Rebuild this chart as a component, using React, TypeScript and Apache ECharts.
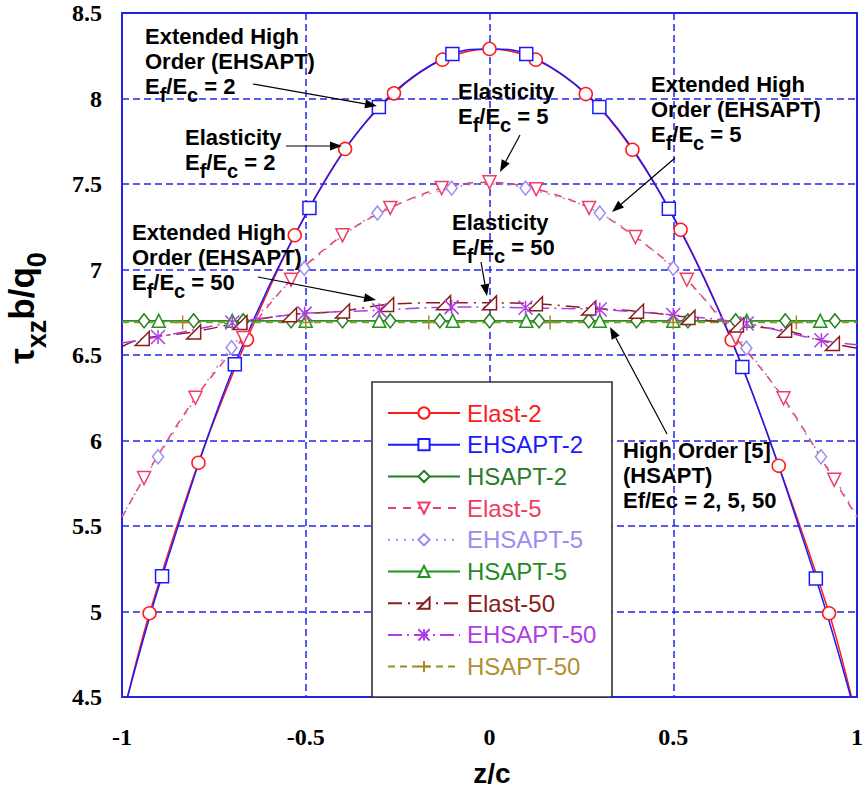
import React, { useEffect, useRef } from "react";
import * as echarts from "echarts";

// ---- data ----
const elast2X = [-0.985, -0.925, -0.792, -0.66, -0.53, -0.393, -0.26, -0.128, 0, 0.126, 0.262, 0.389, 0.52, 0.659, 0.787, 0.924, 0.985];
const elast2Y = [4.5, 4.99, 5.87, 6.59, 7.2, 7.705, 8.03, 8.227, 8.29, 8.227, 8.026, 7.7, 7.232, 6.588, 5.852, 4.99, 4.5];
const elast2M = [0, 1, 1, 1, 1, 1, 1, 1, 1, 1, 1, 1, 1, 1, 1, 1, 0];

const ehsapt2X = [-0.985, -0.891, -0.693, -0.49, -0.301, -0.101, 0, 0.1, 0.299, 0.488, 0.688, 0.888, 0.983];
const ehsapt2Y = [4.5, 5.206, 6.446, 7.359, 7.95, 8.26, 8.29, 8.26, 7.95, 7.355, 6.43, 5.193, 4.5];
const ehsapt2M = [0, 1, 1, 1, 1, 1, 0, 1, 1, 1, 1, 1, 0];

const hsapt2X = [-1, -0.94, -0.805, -0.67, -0.54, -0.4, -0.27, -0.135, 0, 0.135, 0.27, 0.4, 0.54, 0.67, 0.805, 0.94, 1];
const hsapt2Y = [6.7, 6.7, 6.7, 6.7, 6.7, 6.7, 6.7, 6.7, 6.7, 6.7, 6.7, 6.7, 6.7, 6.7, 6.7, 6.7, 6.7];
const hsapt2M = [0, 1, 1, 1, 1, 1, 1, 1, 1, 1, 1, 1, 1, 1, 1, 1, 0];

const elast5X = [-1, -0.94, -0.8, -0.67, -0.54, -0.4, -0.27, -0.13, 0, 0.127, 0.271, 0.397, 0.537, 0.67, 0.8, 0.938, 1];
const elast5Y = [5.55, 5.78, 6.25, 6.6, 6.94, 7.2, 7.36, 7.476, 7.51, 7.47, 7.36, 7.19, 6.94, 6.6, 6.247, 5.77, 5.55];
const elast5M = [0, 1, 1, 1, 1, 1, 1, 1, 1, 1, 1, 1, 1, 1, 1, 1, 0];

const ehsapt5X = [-1, -0.902, -0.702, -0.504, -0.305, -0.103, 0, 0.098, 0.3, 0.5, 0.699, 0.902, 1];
const ehsapt5Y = [5.56, 5.905, 6.543, 7.007, 7.33, 7.476, 7.5, 7.476, 7.33, 7.007, 6.54, 5.905, 5.56];
const ehsapt5M = [0, 1, 1, 1, 1, 1, 0, 1, 1, 1, 1, 1, 0];

const hsapt5X = [-1, -0.9, -0.7, -0.5, -0.3, -0.1, 0.1, 0.3, 0.5, 0.7, 0.9, 1];
const hsapt5Y = [6.7, 6.7, 6.7, 6.7, 6.7, 6.7, 6.7, 6.7, 6.7, 6.7, 6.7, 6.7];
const hsapt5M = [0, 1, 1, 1, 1, 1, 1, 1, 1, 1, 1, 0];

const elast50X = [-1, -0.945, -0.805, -0.679, -0.544, -0.4, -0.28, -0.125, 0, 0.125, 0.27, 0.4, 0.54, 0.672, 0.803, 0.933, 1];
const elast50Y = [6.55, 6.596, 6.635, 6.69, 6.735, 6.757, 6.795, 6.806, 6.805, 6.8, 6.775, 6.756, 6.72, 6.675, 6.645, 6.567, 6.54];
const elast50M = [0, 1, 1, 1, 1, 1, 1, 1, 1, 1, 1, 1, 1, 1, 1, 1, 0];

const ehsapt50X = [-1, -0.902, -0.7, -0.503, -0.3, -0.103, 0, 0.098, 0.3, 0.5, 0.7, 0.903, 1];
const ehsapt50Y = [6.57, 6.605, 6.69, 6.742, 6.762, 6.78, 6.78, 6.776, 6.766, 6.734, 6.684, 6.586, 6.56];
const ehsapt50M = [0, 1, 1, 1, 1, 1, 0, 1, 1, 1, 1, 1, 0];

const hsapt50X = [-1, -0.835, -0.5, -0.165, 0.165, 0.5, 0.835, 1];
const hsapt50Y = [6.69, 6.69, 6.69, 6.69, 6.69, 6.69, 6.69, 6.69];
const hsapt50M = [0, 1, 1, 1, 1, 1, 1, 0];

const seriesNames = ["Elast-2", "EHSAPT-2", "HSAPT-2", "Elast-5", "EHSAPT-5", "HSAPT-5", "Elast-50", "EHSAPT-50", "HSAPT-50"];
const xTicks = [-1, -0.5, 0, 0.5, 1];
const yTicks = [4.5, 8.5, 0.5];

// ---- styles ----
const BLUE = "#2323e6";
const SANS = "'Liberation Sans', Arial, Helvetica, sans-serif";
const TICKFONT = "'Liberation Serif', 'Times New Roman', serif";

const RIGHT_TRI = "path://M0,10 L10,0 L10,10 Z";
const ASTER = "path://M0,0 L10,10 M10,0 L0,10 M5,0 L5,10";
const PLUS = "path://M5,0 L5,10 M0,5 L10,5";

const styles = [
  { color: "#ff1a1a", text: "#ff1a1a", dash: "solid", symbol: "circle", size: 13, smooth: 0.35 },
  { color: "#1a1aff", text: "#1a1aff", dash: "solid", symbol: "rect", size: 13, smooth: 0.35 },
  { color: "#1f7f1f", text: "#2a7a2a", dash: "solid", symbol: "diamond", size: [11, 14], smooth: 0 },
  { color: "#f03c64", text: "#f03c64", dash: [8, 7], symbol: "triangle", size: 13, rotate: 180, smooth: 0.35 },
  { color: "#9a8cf0", text: "#9a8cf0", dash: [2, 6], symbol: "diamond", size: [11, 14], smooth: 0.35 },
  { color: "#1e961e", text: "#1e8c1e", dash: "solid", symbol: "triangle", size: 13, smooth: 0 },
  { color: "#8a1c1c", text: "#8a1c1c", dash: [14, 6, 2, 6], symbol: RIGHT_TRI, size: 14, smooth: 0.3 },
  { color: "#b03ce6", text: "#b03ce6", dash: [14, 5, 2, 5], symbol: ASTER, size: 14, smooth: 0.3 },
  { color: "#a08a28", text: "#b09030", dash: [7, 5], symbol: PLUS, size: 14, smooth: 0 },
];

const seriesXY = [
  [elast2X, elast2Y, elast2M],
  [ehsapt2X, ehsapt2Y, ehsapt2M],
  [hsapt2X, hsapt2Y, hsapt2M],
  [elast5X, elast5Y, elast5M],
  [ehsapt5X, ehsapt5Y, ehsapt5M],
  [hsapt5X, hsapt5Y, hsapt5M],
  [elast50X, elast50Y, elast50M],
  [ehsapt50X, ehsapt50Y, ehsapt50M],
  [hsapt50X, hsapt50Y, hsapt50M],
];

// rich styles: main text top-aligned in a tall line, subscripts bottom-aligned => lowered
const rich = {
  m: { fontSize: 22, fontWeight: "bold", fontFamily: SANS, lineHeight: 30, verticalAlign: "top", fill: "#000", color: "#000" },
  s: { fontSize: 20, fontWeight: "bold", fontFamily: SANS, verticalAlign: "bottom", fill: "#000", color: "#000" },
};

// one text element per line; cy = vertical centre of the capital letters of the first line
function note(x: number, cy: number, lines: string[]) {
  return lines.map((t, i) => ({
    type: "text",
    x,
    y: cy + i * 25 - 10,
    z: 6,
    style: { text: t, rich, fill: "#000", align: "left", textAlign: "left", verticalAlign: "top", textVerticalAlign: "top" },
  }));
}

function arrow(x1: number, y1: number, x2: number, y2: number) {
  const a = Math.atan2(y2 - y1, x2 - x1);
  const L = 12, W = 4.5;
  const bx = x2 - L * Math.cos(a), by = y2 - L * Math.sin(a);
  return [
    { type: "line", z: 6, shape: { x1, y1, x2: bx, y2: by }, style: { stroke: "#000", lineWidth: 1.2 } },
    {
      type: "polygon",
      z: 6,
      shape: { points: [[x2, y2], [bx - W * Math.sin(a), by + W * Math.cos(a)], [bx + W * Math.sin(a), by - W * Math.cos(a)]] },
      style: { fill: "#000" },
    },
  ];
}

const EfEc = (v: string) => `{m|E}{s|f}{m|/E}{s|c}{m| = ${v}}`;

export default function App() {
  const ref = useRef<HTMLDivElement>(null);
  useEffect(() => {
    document.body.style.margin = "0";
    const chart = echarts.init(ref.current!, null, { renderer: "svg" });
    const series = seriesNames.map((name, i) => {
      const st: any = styles[i];
      const [xs, ys, ms] = seriesXY[i];
      return {
        name,
        type: "line",
        data: (xs as number[]).map((xv, k) =>
          (ms as number[])[k] ? [xv, (ys as number[])[k]] : { value: [xv, (ys as number[])[k]], symbol: "none" }
        ),
        smooth: st.smooth,
        symbol: st.symbol,
        symbolSize: st.size,
        symbolRotate: st.rotate || 0,
        showSymbol: true,
        showAllSymbol: true,
        lineStyle: { color: st.color, width: 1.5, type: st.dash },
        itemStyle: { color: "#fff", borderColor: st.color, borderWidth: 1.5 },
        emphasis: { disabled: true },
      };
    });

    const graphic: any[] = [
      { type: "rect", z: 5, shape: { x: 372, y: 382, width: 240, height: 315 }, style: { fill: "#fff", stroke: "#333", lineWidth: 1.6 } },
      ...note(145, 35, ["{m|Extended High}", "{m|Order (EHSAPT)}", EfEc("2")]),
      ...note(185, 136, ["{m|Elasticity}", EfEc("2")]),
      ...note(458, 90, ["{m|Elasticity}", EfEc("5")]),
      ...note(651, 83, ["{m|Extended High}", "{m|Order (EHSAPT)}", EfEc("5")]),
      ...note(452, 221, ["{m|Elasticity}", EfEc("50")]),
      ...note(132, 231, ["{m|Extended High}", "{m|Order (EHSAPT)}", EfEc("50")]),
      ...note(623, 449, ["{m|High Order [5]}", "{m|(HSAPT)}", "{m|Ef/Ec = 2, 5, 50}"]),
      ...arrow(253, 84, 377, 106),
      ...arrow(286, 146, 342, 146),
      ...arrow(520, 135, 500, 172),
      ...arrow(675, 158, 612, 212),
      ...arrow(481, 262, 487, 296),
      ...arrow(258, 277, 376, 300),
      ...arrow(667, 434, 610, 327),
      {
        type: "text",
        x: 27,
        y: 308,
        rotation: Math.PI / 2,
        z: 6,
        style: {
          text: "{a|τ}{b|xz}{a|b/q}{b|0}",
          align: "center",
          textAlign: "center",
          verticalAlign: "middle",
          textVerticalAlign: "middle",
          rich: {
            a: { fontSize: 35, fontWeight: "bold", fontFamily: SANS, lineHeight: 46, verticalAlign: "top", fill: "#000" },
            b: { fontSize: 27, fontWeight: "bold", fontFamily: SANS, verticalAlign: "bottom", fill: "#000" },
          },
        },
      },
      {
        type: "text",
        x: 492,
        y: 773,
        z: 6,
        style: { text: "z/c", font: `bold 28px ${SANS}`, fill: "#000", align: "center", textAlign: "center", verticalAlign: "middle", textVerticalAlign: "middle" },
      },
    ];

    const axisCommon = {
      type: "value",
      axisLine: { show: true, onZero: false, lineStyle: { color: BLUE, width: 2 } },
      axisTick: { show: false },
      splitLine: { show: true, lineStyle: { color: BLUE, width: 1.5, type: [7, 4] } },
      axisLabel: { fontFamily: TICKFONT, fontWeight: "bold", fontSize: 24, color: "#000" },
    };

    chart.setOption({
      animation: false,
      backgroundColor: "#fff",
      grid: { left: 122, right: 2, top: 13, bottom: 98, show: true, borderColor: BLUE, borderWidth: 2, backgroundColor: "transparent" },
      xAxis: { ...axisCommon, min: xTicks[0], max: xTicks[xTicks.length - 1], interval: xTicks[1] - xTicks[0], axisLabel: { ...axisCommon.axisLabel, margin: 28 } },
      yAxis: { ...axisCommon, min: yTicks[0], max: yTicks[1], interval: yTicks[2], axisLabel: { ...axisCommon.axisLabel, margin: 20 } },
      legend: {
        orient: "vertical",
        left: 387,
        top: 401,
        padding: 0,
        itemWidth: 72,
        itemHeight: 14,
        itemGap: 7.7,
        selectedMode: false,
        z: 10,
        textStyle: { fontSize: 24, fontFamily: SANS, padding: [0, 0, 0, 2] },
        data: seriesNames.map((n, i) => ({ name: n, textStyle: { color: styles[i].text } })),
      },
      graphic,
      series,
    });
    return () => chart.dispose();
  }, []);
  return <div ref={ref} style={{ position: "absolute", left: 0, top: 0, width: 866, height: 795, background: "#fff" }} />;
}
